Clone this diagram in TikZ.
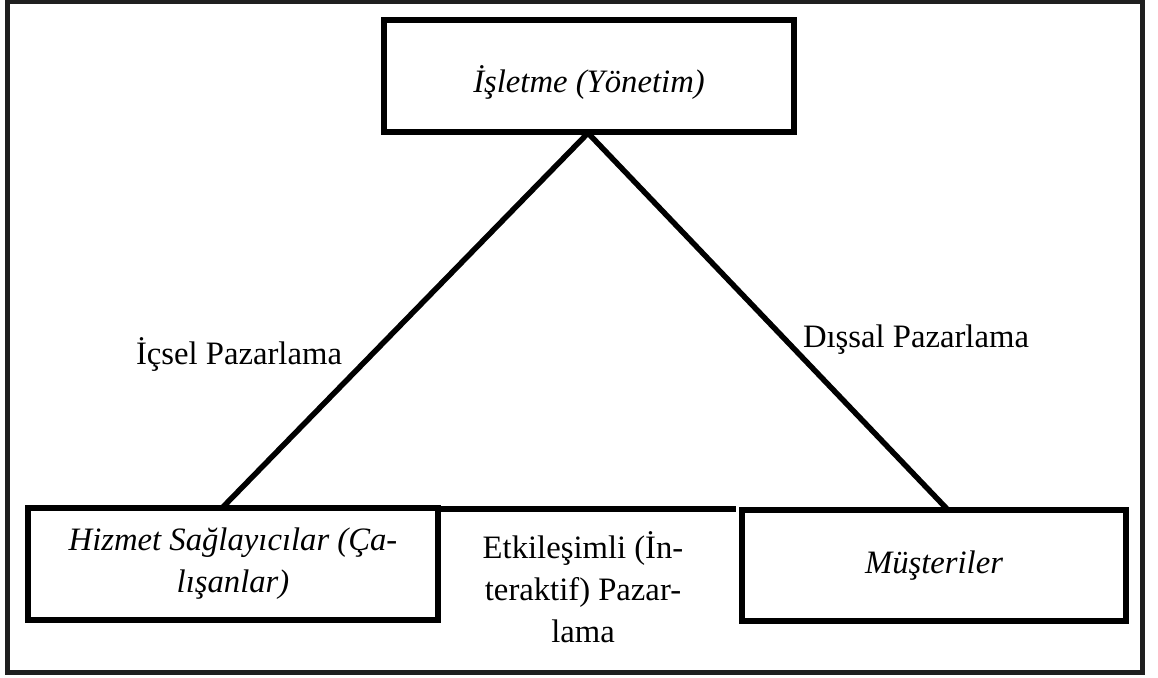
\documentclass[tikz,border=0pt]{standalone}
\usepackage{fontspec}
\setmainfont{Liberation Serif}
\tikzset{
    kutu/.style={draw, line width=0.12cm, align=center, font=\itshape},
    etiket/.style={align=center}
}
\begin{document}
\fontsize{18.6}{24}\selectfont
\begin{tikzpicture}[x=0.02cm, y=-0.02cm]
    \useasboundingbox (0,0) rectangle (1158,677);
    \draw[line width=0.1cm, black!88] (7.5,1.5) rectangle (1142.5,672.5);

    % kutular
    \node[kutu, minimum width=8.2cm, minimum height=2.24cm, text height=0.67cm, text depth=0pt] (isletme) at (589,76) {İşletme (Yönetim)};
    \node[kutu, minimum width=8.2cm, minimum height=2.24cm] (hizmet) at (233,564) {Hizmet Sağlayıcılar (Ça-\\lışanlar)};
    \node[kutu, minimum width=7.68cm, minimum height=2.22cm] (musteri) at (934,565.5) {Müşteriler};

    \coordinate (tepe) at (588,133);
    \coordinate (soluc) at (222,508);
    \coordinate (saguc) at (948,510);
    \coordinate (orta) at (736,508.5);

    \draw[line width=0.11cm] (soluc) -- (tepe) -- (saguc);
    \draw[line width=0.12cm] (hizmet.north east |- orta) -- (orta);

%    \draw[red] (0,0) grid[step=100] (1158,677);

    \node[etiket] (icsel) at (239,354) {İçsel Pazarlama};
    \node[etiket] (dissal) at (916,340) {Dışsal Pazarlama};
    \node[etiket] (etkilesim) at (583,587) {Etkileşimli (İn-\\teraktif) Pazar-\\lama};

\end{tikzpicture}
\end{document}
